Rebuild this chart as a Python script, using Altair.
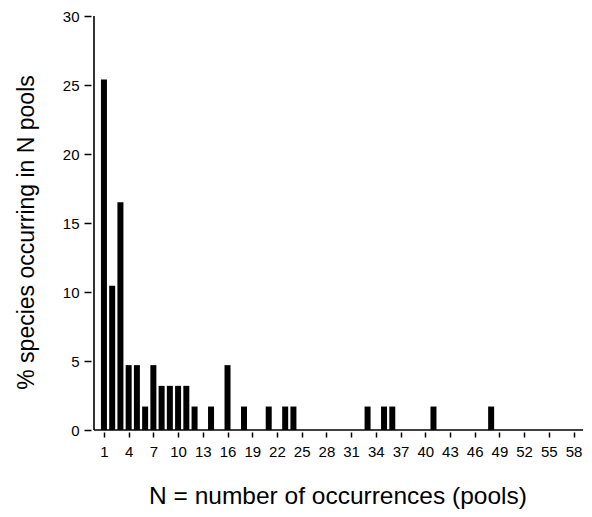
import altair as alt
import pandas as pd

# Data
occurrences = [1, 2, 3, 4, 5, 6, 7, 8, 9, 10, 11, 12, 14, 16, 18, 21, 23, 24, 33, 35, 36, 41, 48]
percent = [25.4, 10.45, 16.5, 4.7, 4.7, 1.7, 4.7, 3.2, 3.2, 3.2, 3.2, 1.7, 1.7, 4.7, 1.7,
           1.7, 1.7, 1.7, 1.7, 1.7, 1.7, 1.7, 1.7]
x_ticks = list(range(1, 59, 3))
y_ticks = [0, 5, 10, 15, 20, 25, 30]

df = pd.DataFrame({"N": occurrences, "pct": percent})

FONT = "Liberation Sans"
XMIN, XMAX = 0.4, 58.3
H = 414

x_scale = alt.Scale(domain=[XMIN, XMAX], nice=False, zero=False)
y_scale = alt.Scale(domain=[0, 30], nice=False)

bars = alt.Chart(df).mark_bar(color="black", size=6).encode(
    x=alt.X("N:Q", scale=x_scale,
            axis=alt.Axis(values=x_ticks, title="N = number of occurrences (pools)",
                          domain=False, grid=False, offset=2, tickSize=5,
                          tickColor="black", tickWidth=1.5,
                          labelFont=FONT, labelFontSize=15, labelColor="black",
                          labelPadding=7, labelFlush=False, labelOverlap=False,
                          titleFont=FONT, titleFontSize=24.5, titleFontWeight="normal",
                          titleColor="black", titlePadding=25)),
    y=alt.Y("pct:Q", scale=y_scale,
            axis=alt.Axis(values=y_ticks, title="% species occurring in N pools",
                          domain=False, grid=False, offset=3, tickSize=7,
                          tickColor="black", tickWidth=1.5,
                          labelFont=FONT, labelFontSize=15, labelColor="black",
                          labelPadding=5, labelFlush=False,
                          titleFont=FONT, titleFontSize=23, titleFontWeight="normal",
                          titleColor="black", titlePadding=24, titleY=216)),
)

x_line = alt.Chart(pd.DataFrame({"a": [0]})).mark_rule(color="black", strokeWidth=1.6).encode(
    x=alt.value(0), x2=alt.value(489), y=alt.value(H)
)
y_line = alt.Chart(pd.DataFrame({"a": [0]})).mark_rule(color="black", strokeWidth=1.6).encode(
    x=alt.value(0), y=alt.value(0), y2=alt.value(H)
)

chart = alt.layer(bars, x_line, y_line).properties(
    width=487, height=H,
    background="white",
    autosize=alt.AutoSizeParams(type="none"),
    padding={"left": 86, "top": 8, "right": 3, "bottom": 79},
).configure_view(strokeWidth=0, stroke="transparent")

chart.save("out.html", embed_options={"renderer": "svg", "actions": False})
